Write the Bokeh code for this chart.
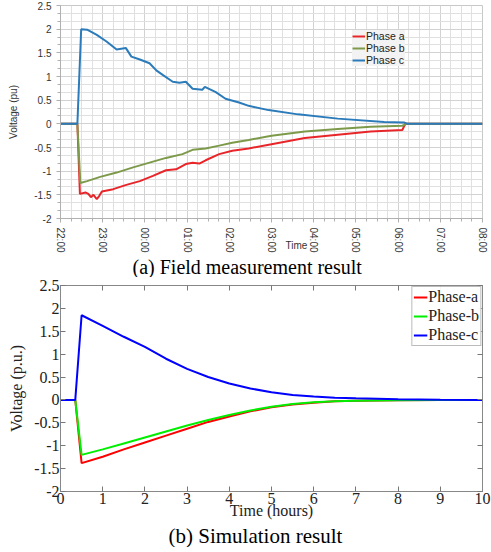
import math
from bokeh.plotting import figure
from bokeh.layouts import column
from bokeh.models import (FixedTicker, Legend, LegendItem, LinearAxis,
                          Range1d, CustomJSTickFormatter, Title)
from bokeh.embed import file_html
from bokeh.resources import INLINE

# ---------------- (a) Field measurement (hours after 22:00) ----------------
time_labels = ["22:00", "23:00", "00:00", "01:00", "02:00", "03:00",
               "04:00", "05:00", "06:00", "07:00", "08:00"]

field_a_t = [0, 0.40, 0.46, 0.59, 0.66, 0.72, 0.78, 0.86, 0.92, 0.98, 1.25, 1.56,
             1.88, 2.19, 2.5, 2.74, 2.97, 3.13, 3.29, 3.44, 3.76, 4.07, 4.46, 5.0,
             5.79, 6.57, 7.35, 8.1, 8.17, 10]
field_a_v = [0, 0, -1.48, -1.45, -1.48, -1.55, -1.50, -1.59, -1.52, -1.43, -1.38, -1.29,
             -1.21, -1.10, -0.98, -0.96, -0.85, -0.82, -0.84, -0.77, -0.64, -0.57, -0.52, -0.43,
             -0.30, -0.23, -0.16, -0.13, 0.0, 0.0]

field_b_t = [0, 0.40, 0.47, 0.63, 0.94, 1.33, 1.72, 2.11, 2.5, 2.89, 3.13, 3.44,
             3.76, 4.07, 4.46, 5.0, 5.79, 6.57, 7.35, 8.1, 8.2, 10]
field_b_v = [0, 0, -1.25, -1.21, -1.12, -1.03, -0.92, -0.82, -0.72, -0.64, -0.55, -0.52,
             -0.46, -0.40, -0.34, -0.25, -0.16, -0.11, -0.06, -0.04, 0, 0]

field_c_t = [0, 0.40, 0.49, 0.63, 0.86, 1.09, 1.33, 1.55, 1.68, 1.88, 2.11, 2.27,
             2.43, 2.66, 2.82, 2.97, 3.13, 3.36, 3.42, 3.68, 3.91, 4.23, 4.46, 4.93,
             5.63, 6.57, 7.67, 8.14, 8.22, 10]
field_c_v = [0, 0, 2.0, 1.99, 1.88, 1.74, 1.57, 1.60, 1.42, 1.36, 1.28, 1.13,
             1.03, 0.89, 0.87, 0.89, 0.74, 0.72, 0.78, 0.67, 0.53, 0.45, 0.38, 0.29,
             0.20, 0.11, 0.04, 0.03, 0.0, 0.0]

# ---------------- (b) Simulation (hours) ----------------
sim_t = [0, 0.35, 0.5, 1, 1.5, 2, 2.5, 3, 3.5, 4, 4.5, 5, 5.5, 6, 6.5, 7, 8, 9, 10]
sim_a = [0, 0, -1.38, -1.24, -1.08, -0.93, -0.78, -0.63, -0.48, -0.36, -0.25, -0.16,
         -0.10, -0.06, -0.03, -0.015, -0.005, 0, 0]
sim_b = [0, 0, -1.20, -1.08, -0.95, -0.82, -0.69, -0.56, -0.44, -0.33, -0.23, -0.15,
         -0.09, -0.05, -0.03, -0.015, -0.005, 0, 0]
sim_c = [0, 0, 1.85, 1.62, 1.38, 1.16, 0.90, 0.68, 0.50, 0.36, 0.25, 0.17,
         0.11, 0.075, 0.05, 0.035, 0.015, 0.005, 0]

volt_ticks = [-2, -1.5, -1, -0.5, 0, 0.5, 1, 1.5, 2, 2.5]
hour_ticks = [0, 1, 2, 3, 4, 5, 6, 7, 8, 9, 10]

SANS = "Liberation Sans"
SERIF = "Liberation Serif"
num_fmt = CustomJSTickFormatter(code="return String(tick);")

# ======================= Figure (a) =======================
pa = figure(width=491, height=277, output_backend="svg", toolbar_location=None,
            x_range=Range1d(0, 10), y_range=Range1d(-2, 2.5),
            min_border_left=60, min_border_right=5, min_border_top=5,
            min_border_bottom=0)
pa.outline_line_color = "#c8c8c8"
xa_a = pa.xaxis[0]
ya_a = pa.yaxis[0]

xa_a.ticker = FixedTicker(ticks=hour_ticks,
                          minor_ticks=[i * 0.25 for i in range(41)])
xa_a.major_label_overrides = {h: lab for h, lab in zip(hour_ticks, time_labels)}
xa_a.major_label_orientation = -math.pi / 2
ya_a.ticker = FixedTicker(ticks=volt_ticks,
                          minor_ticks=[-2 + i / 6 for i in range(28)])
ya_a.formatter = num_fmt
for ax in (xa_a, ya_a):
    ax.axis_line_color = "#b0b0b0"
    ax.major_tick_line_color = "#b0b0b0"
    ax.minor_tick_line_color = "#b0b0b0"
    ax.major_tick_in = 0
    ax.major_tick_out = 4
    ax.minor_tick_in = 0
    ax.minor_tick_out = 3
    ax.major_label_text_font = SANS
    ax.major_label_text_font_size = "10px"
    ax.major_label_text_color = "#333333"
    ax.axis_label_text_font = SANS
    ax.axis_label_text_font_size = "10px"
    ax.axis_label_text_font_style = "normal"
    ax.axis_label_text_color = "#333333"
ya_a.axis_label = "Voltage (pu)"
ya_a.axis_label_standoff = 12
# the label sits between the 03:00 and 04:00 tick labels (padded to the right)
xa_a.axis_label = "\u00a0" * 18 + "Time"
xa_a.axis_label_standoff = -16

for g in (pa.xgrid[0], pa.ygrid[0]):
    g.grid_line_color = "#d2d2d2"
    g.minor_grid_line_color = "#e0e0e0"
    g.grid_line_width = 1

ra = pa.line(field_a_t, field_a_v, line_color="#e8262a", line_width=2)
rb = pa.line(field_b_t, field_b_v, line_color="#7d9a4b", line_width=2)
rc = pa.line(field_c_t, field_c_v, line_color="#2b7bba", line_width=2)

leg_a = Legend(items=[LegendItem(label="Phase a", renderers=[ra]),
                      LegendItem(label="Phase b", renderers=[rb]),
                      LegendItem(label="Phase c", renderers=[rc])],
               location=(292, 152), background_fill_color="#f3f3f3",
               background_fill_alpha=1.0, border_line_color=None,
               label_text_font=SANS, label_text_font_size="10.5px",
               label_text_color="#222222", glyph_width=13, glyph_height=8,
               label_height=10, spacing=0, padding=3, margin=0,
               label_standoff=1)
pa.add_layout(leg_a, "center")

pa.add_layout(Title(text="(a) Field measurement result", text_font=SERIF,
                    text_font_size="20px", text_font_style="normal",
                    text_color="black", align="left", offset=72,
                    standoff=0), "below")

# ======================= Figure (b) =======================
pb = figure(width=491, height=270, output_backend="svg", toolbar_location=None,
            x_range=Range1d(0, 10), y_range=Range1d(-2, 2.5),
            min_border_left=57, min_border_right=9, min_border_top=8,
            min_border_bottom=0)
pb.outline_line_color = "#888888"
pb.xgrid.visible = False
pb.ygrid.visible = False
xa_b = pb.xaxis[0]
ya_b = pb.yaxis[0]

xa_b.ticker = FixedTicker(ticks=hour_ticks)
ya_b.ticker = FixedTicker(ticks=volt_ticks)
xa_b.formatter = num_fmt
ya_b.formatter = num_fmt

# box ticks on top and right: only tick marks (as minor ticks), no labels
top_ax = LinearAxis(ticker=FixedTicker(ticks=[], minor_ticks=hour_ticks))
right_ax = LinearAxis(ticker=FixedTicker(ticks=[], minor_ticks=volt_ticks))
pb.add_layout(top_ax, "above")
pb.add_layout(right_ax, "right")

for ax in (xa_b, ya_b, top_ax, right_ax):
    ax.axis_line_color = "#888888"
    ax.major_tick_line_color = "#777777"
    ax.minor_tick_line_color = "#777777"
    ax.major_tick_in = 5
    ax.major_tick_out = 0
    ax.minor_tick_in = 5
    ax.minor_tick_out = 0
    ax.major_label_text_font = SERIF
    ax.major_label_text_font_size = "16px"
    ax.major_label_text_color = "#222222"
    ax.major_label_standoff = 1
    ax.axis_label_text_font = SERIF
    ax.axis_label_text_font_size = "16px"
    ax.axis_label_text_font_style = "normal"
    ax.axis_label_text_color = "#222222"
for ax in (xa_b, ya_b):
    ax.minor_tick_line_color = None

xa_b.axis_label = "Time (hours)"
xa_b.axis_label_standoff = -5
ya_b.axis_label = "Voltage (p.u.)"
ya_b.axis_label_standoff = 6

sa = pb.line(sim_t, sim_a, line_color="#ff0000", line_width=2)
sb = pb.line(sim_t, sim_b, line_color="#00ee00", line_width=2)
sc = pb.line(sim_t, sim_c, line_color="#0000ff", line_width=2)

leg_b = Legend(items=[LegendItem(label="Phase-a", renderers=[sa]),
                      LegendItem(label="Phase-b", renderers=[sb]),
                      LegendItem(label="Phase-c", renderers=[sc])],
               location="top_right", background_fill_color="white",
               border_line_color="#777777", label_text_font=SERIF,
               label_text_font_size="16px", label_text_color="#222222",
               glyph_width=14, glyph_height=18, label_height=18, spacing=1,
               padding=1, margin=1, label_standoff=1)
pb.add_layout(leg_b, "center")

pb.add_layout(Title(text="(b) Simulation result", text_font=SERIF,
                    text_font_size="21px", text_font_style="normal",
                    text_color="black", align="left", offset=108,
                    standoff=0), "below")

layout = column(pa, pb, spacing=0)
open("out.html", "w").write(file_html(layout, INLINE))
